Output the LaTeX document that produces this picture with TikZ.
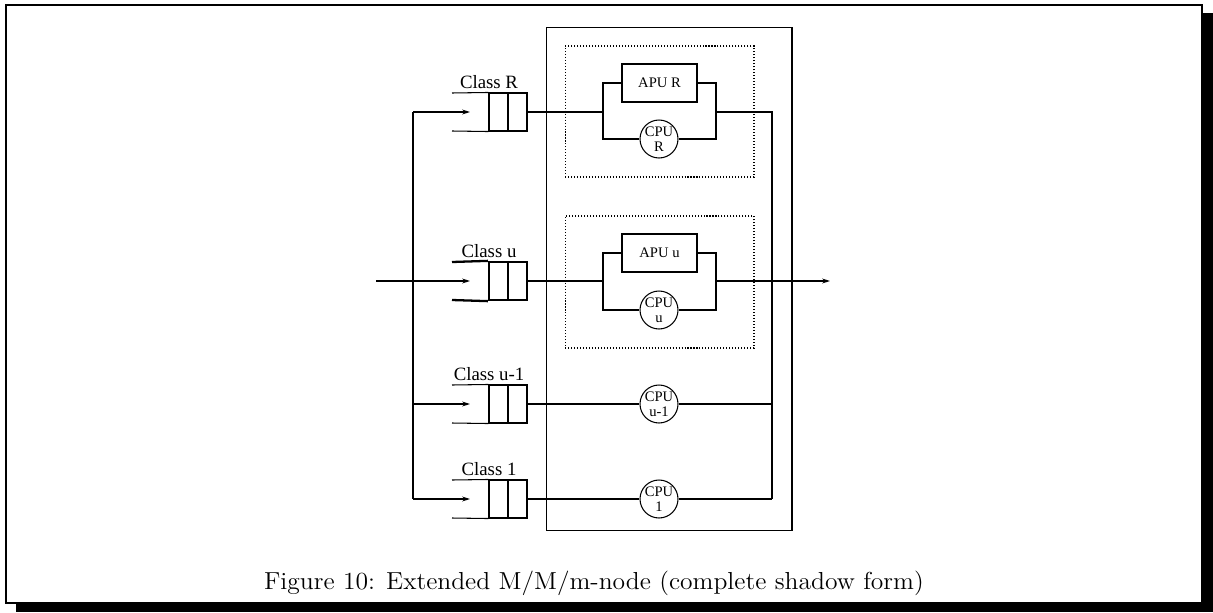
\documentclass[tikz,border=0pt]{standalone}
\usepackage{fontspec}
\usepackage{tikz}
\usetikzlibrary{arrows.meta,positioning}
\newfontfamily\figfont{Liberation Serif}

\begin{document}
\begin{tikzpicture}[
  x=0.02cm, y=-0.02cm,
  wire/.style={line width=0.6pt},
  qbox/.style={draw, line width=0.6pt, minimum width=0.76cm, minimum height=0.76cm, inner sep=0},
  qlab/.style={font=\figfont\fontsize{10.7}{12}\selectfont, inner sep=0},
  apu/.style={draw, line width=0.6pt, minimum width=1.5cm, minimum height=0.76cm, inner sep=0, font=\figfont\fontsize{8.3}{9}\selectfont},
  cpu/.style={draw, circle, line width=0.6pt, minimum size=0.76cm, inner sep=0, align=center, font=\figfont\fontsize{8.3}{8.3}\selectfont},
  grp/.style={draw, line width=0.6pt, dash pattern=on 0.6pt off 1.1pt, minimum width=3.78cm, inner sep=0},
  >={Stealth[length=4.5pt,width=2.8pt]}
]
\useasboundingbox (0,0) rectangle (1213,612);
% shadow frame
\draw[line width=1.2pt] (6,5) rectangle (1202,603);
\fill (16,603) rectangle (1213,612);
\fill (1202,13) rectangle (1213,612);

% system box and shadow groups
\node[draw, line width=0.6pt, minimum width=4.92cm, minimum height=10.08cm, inner sep=0] (sys) at (669,279) {};
\node[grp, minimum height=2.62cm] (grpR) at (659.5,111.5) {};
\node[grp, minimum height=2.64cm] (grpU) at (659.5,282) {};

% queues
\foreach \n/\y/\t/\lw in {R/112/{Class R}/0.6pt, U/281/{Class u}/1.3pt, V/404/{Class u-1}/0.6pt, O/499/{Class 1}/0.6pt}{
  \node[qbox, line width=\lw] (q\n) at (508,\y) {};
  \draw[line width=\lw] (q\n.north) -- (q\n.south);
  \draw[line width=\lw] (452,\y-19) -- (q\n.north west);
  \draw[line width=\lw] (452,\y+19) -- (q\n.south west);
  \node[qlab, anchor=base] (l\n) at (489,\y-24) {\t};
  \coordinate (tip\n) at (470,\y);
}

% servers
\node[apu] (apuR) at (659.5,83) {APU R};
\node[cpu] (cpuR) at (659,139) {CPU\\R};
\node[apu] (apuU) at (659.5,253) {APU u};
\node[cpu] (cpuU) at (659,310) {CPU\\u};
\node[cpu] (cpuV) at (659,404) {CPU\\u-1};
\node[cpu] (cpuO) at (659,499) {CPU\\1};

% junctions
\coordinate (jRl) at (603,112);
\coordinate (jRr) at (716,112);
\coordinate (jUl) at (603,281);
\coordinate (jUr) at (716,281);
\coordinate (inR) at (413,112);
\coordinate (inV) at (413,404);
\coordinate (inO) at (413,499);
\coordinate (src) at (376,281);
\coordinate (outR) at (772,112);
\coordinate (outO) at (772,499);
\coordinate (sink) at (830,281);

% arrivals
\draw[wire] (inR) -- (inO);
\draw[wire,->] (inR) -- (tipR);
\draw[wire,->] (src) -- (tipU);
\draw[wire,->] (inV) -- (tipV);
\draw[wire,->] (inO) -- (tipO);

% parallel APU/CPU pairs
\draw[wire] (qR.east) -- (jRl);
\draw[wire] (apuR.west) -| (jRl) |- (cpuR.west);
\draw[wire] (apuR.east) -| (jRr) |- (cpuR.east);
\draw[wire] (qU.east) -- (jUl);
\draw[wire] (apuU.west) -| (jUl) |- (cpuU.west);
\draw[wire] (apuU.east) -| (jUr) |- (cpuU.east);

% single CPUs
\draw[wire] (qV.east) -- (cpuV.west);
\draw[wire] (qO.east) -- (cpuO.west);

% departures
\draw[wire] (jRr) -- (outR) -- (outO);
\draw[wire] (cpuV.east) -- (cpuV.east -| outR);
\draw[wire] (cpuO.east) -- (outO);
\draw[wire,->] (jUr) -- (sink);

% caption
\node[font=\fontsize{14}{16}\selectfont, xscale=1.04, anchor=base, inner sep=0] (cap) at (594,589)
  {Figure 10: Extended M/M/m-node (complete shadow form)};
\end{tikzpicture}
\end{document}
